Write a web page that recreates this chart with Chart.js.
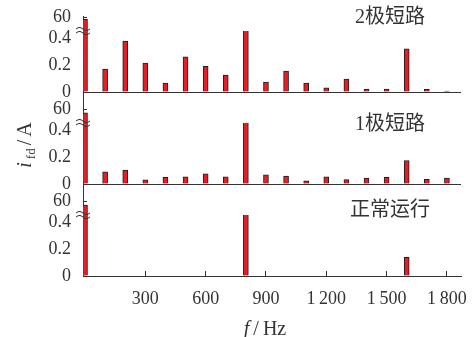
<!DOCTYPE html>
<html>
<head>
<meta charset="utf-8">
<script src="https://cdn.jsdelivr.net/npm/chart.js@4.4.1/dist/chart.umd.min.js"></script>
<style>
  html, body { margin: 0; padding: 0; background: #fff; }
  #wrap { width: 474px; height: 337px; position: relative; }
</style>
</head>
<body>
<div id="wrap"><canvas id="chart" width="474" height="337"></canvas></div>
<script>
// harmonic bins (Hz)
const freqs = [0, 100, 200, 300, 400, 500, 600, 700, 800, 900, 1000, 1100, 1200, 1300, 1400, 1500, 1600, 1700, 1800];

// i_fd amplitude per bin, one list per operating case
const twoPole = [58.5, 0.17, 0.378, 0.215, 0.067, 0.26, 0.19, 0.125, 0.47, 0.074, 0.155, 0.067, 0.03, 0.096, 0.022, 0.022, 0.32, 0.02, 0.007];
const onePole = [57.5, 0.091, 0.104, 0.03, 0.05, 0.053, 0.075, 0.053, 0.47, 0.068, 0.058, 0.023, 0.053, 0.032, 0.043, 0.05, 0.174, 0.035, 0.043];
const normal  = [57.3, 0, 0, 0, 0, 0, 0, 0, 0.47, 0, 0, 0, 0, 0, 0, 0, 0.138, 0, 0];

const panelNames = ['2极短路', '1极短路', '正常运行'];
const xTicks = [300, 600, 900, 1200, 1500, 1800];
const lowTicks = [0, 0.2, 0.4];
const highTicks = [60];

const INK = '#333';
const RED = '#e41e26';
const SERIF = '"Liberation Serif", "DejaVu Serif", serif';

function fmtHz(v) {
    if (v < 1000) return String(v);
    return Math.floor(v / 1000) + '\u2009' + String(v % 1000).padStart(3, '0');
}

// one segment of a broken y axis; all six segments share one stack
function yPart(weight, stackWeight, min, max, ticks, baseline) {
    return {
        type: 'linear', position: 'left', stack: 'panels',
        weight, stackWeight, min, max,
        afterBuildTicks: s => { s.ticks = ticks.map(v => ({ value: v })); },
        afterFit: s => { s.width = 83; s.paddingTop = 0; s.paddingBottom = 0; },
        border: { display: true, color: INK, width: 1 },
        grid: {
            drawOnChartArea: baseline,
            color: c => (c.tick && c.tick.value === 0 ? INK : 'rgba(0,0,0,0)'),
            tickColor: INK, tickLength: -4, lineWidth: 1
        },
        ticks: { padding: 16, autoSkip: false, color: INK, font: { family: SERIF, size: 18 }, callback: v => String(v) }
    };
}

const panels = [twoPole, onePole, normal];
const datasets = [];
panels.forEach((vals, i) => {
    ['a', 'b'].forEach(k => {
        datasets.push({
            data: freqs.map((f, j) => ({ x: f, y: vals[j] })),
            xAxisID: 'x',
            yAxisID: k + (i + 1),
            backgroundColor: RED,
            borderColor: '#1e1e1e',
            borderWidth: 1,
            barThickness: 5,
            grouped: false,
            clip: 0
        });
    });
});

const decor = {
    id: 'decor',
    afterDraw(chart) {
        const ctx = chart.ctx;
        const s = chart.scales;
        ctx.save();

        // axis break marks
        ['b1', 'b2', 'b3'].forEach(id => {
            const y = s[id].top;
            const x = s[id].right;
            ctx.fillStyle = '#fff';
            ctx.fillRect(x - 7, y - 2, 7, 4);
            ctx.strokeStyle = INK;
            ctx.lineWidth = 1;
            [-2, 2].forEach(dy => {
                ctx.beginPath();
                for (let t = 0; t <= 14; t++) {
                    const px = x - 7 + t;
                    const py = y + dy - 1.5 * Math.sin(t / 14 * 2 * Math.PI);
                    if (t) ctx.lineTo(px, py); else ctx.moveTo(px, py);
                }
                ctx.stroke();
            });
        });

        // case names
        const nameY = [18, 125, 211];
        ctx.fillStyle = INK;
        ctx.textAlign = 'center';
        ctx.textBaseline = 'middle';
        ctx.font = '20px "Liberation Serif", "Noto Sans CJK SC"';
        panelNames.forEach((n, i) => ctx.fillText(n, 390, nameY[i]));

        // x title: f/Hz
        ctx.textAlign = 'left';
        ctx.textBaseline = 'alphabetic';
        const xParts = [['italic 20px ' + SERIF, 'f'], ['20px ' + SERIF, '/'], ['20px ' + SERIF, 'Hz']];
        drawParts(ctx, xParts, 265, 335, 4);

        // y title: i_fd/A, rotated
        ctx.translate(31, 145);
        ctx.rotate(-Math.PI / 2);
        const yParts = [['italic 20px ' + SERIF, 'i', 0], ['13px ' + SERIF, 'fd', 4], ['20px ' + SERIF, '/', 0], ['20px ' + SERIF, 'A', 0]];
        drawParts(ctx, yParts, 0, 0, 3);
        ctx.restore();
    }
};

function drawParts(ctx, parts, cx, y, gap) {
    let w = 0;
    parts.forEach(p => { ctx.font = p[0]; w += ctx.measureText(p[1]).width; });
    w += gap * (parts.length - 1);
    let x = cx - w / 2;
    parts.forEach(p => {
        ctx.font = p[0];
        ctx.fillText(p[1], x, y + (p[2] || 0));
        x += ctx.measureText(p[1]).width + gap;
    });
}

new Chart(document.getElementById('chart'), {
    type: 'bar',
    data: { datasets },
    options: {
        responsive: false,
        animation: false,
        events: [],
        layout: { padding: { top: 16, right: 13, left: 0, bottom: 0 } },
        plugins: { legend: { display: false }, tooltip: { enabled: false } },
        scales: {
            x: {
                type: 'linear', position: 'bottom', min: -10, max: 1870, offset: false,
                afterBuildTicks: s => { s.ticks = xTicks.map(v => ({ value: v })); },
                afterFit: s => { s.height = 61; s.paddingLeft = 0; s.paddingRight = 0; },
                border: { display: true, color: INK, width: 1 },
                grid: { offset: false, drawOnChartArea: false, tickLength: -5, tickColor: INK },
                ticks: { padding: 17, color: INK, maxRotation: 0, autoSkip: false, font: { family: SERIF, size: 18 }, callback: v => fmtHz(v) }
            },
            a1: yPart(6, 15, 50, 61, highTicks, false),
            b1: yPart(5, 61, 0, 0.452, lowTicks, true),
            a2: yPart(4, 31, 50, 72.8, highTicks, false),
            b2: yPart(3, 61, 0, 0.452, lowTicks, true),
            a3: yPart(2, 31, 50, 72.8, highTicks, false),
            b3: yPart(1, 61, 0, 0.452, lowTicks, true)
        }
    },
    plugins: [decor]
});
</script>
</body>
</html>
